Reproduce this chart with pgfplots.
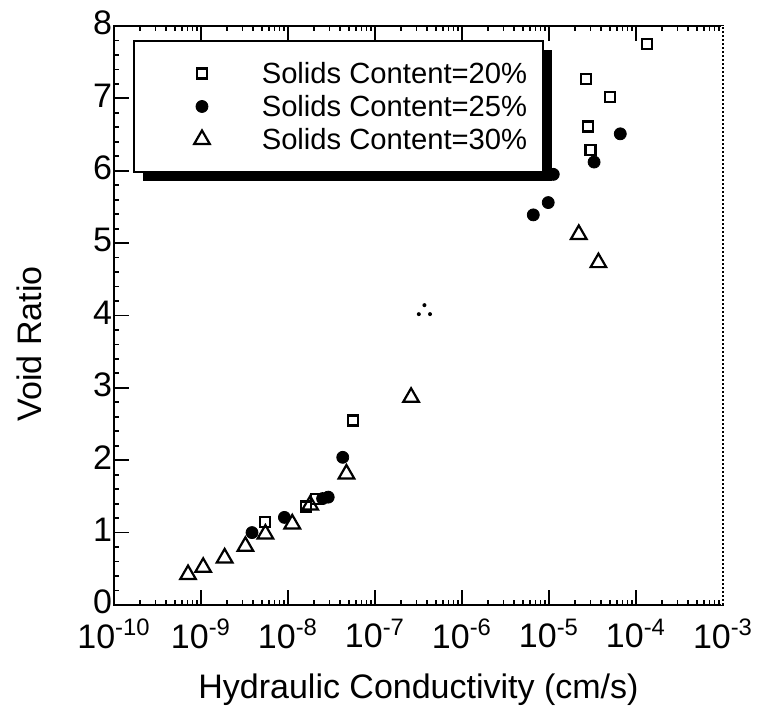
\documentclass[border=0pt]{standalone}
\usepackage{pgfplots}
\pgfplotsset{compat=1.18}
\usepackage{fontspec}
\setmainfont{Liberation Sans}
\usetikzlibrary{shadows}

\pgfdeclareplotmark{threedots}{%
  \pgfpathcircle{\pgfpoint{0pt}{3pt}}{1pt}%
  \pgfpathcircle{\pgfpoint{-2.8pt}{-1.5pt}}{1pt}%
  \pgfpathcircle{\pgfpoint{2.8pt}{-1.5pt}}{1pt}%
  \pgfusepathqfill}

\pgfplotsset{
  mylegimg/.style={legend image code/.code={\path (0pt,0pt); \draw[##1] plot coordinates {(28.5pt,0pt)};}},
}

\begin{document}
\begin{tikzpicture}
\begin{axis}[
  scale only axis, width=304.5pt, height=289.5pt,
  xmode=log, xmin=1e-10, xmax=1e-3, ymin=0, ymax=8,
  xtick={1e-10,1e-9,1e-8,1e-7,1e-6,1e-5,1e-4,1e-3},
  xticklabels={10\textsuperscript{-10},10\textsuperscript{-9},10\textsuperscript{-8},10\textsuperscript{-7},10\textsuperscript{-6},10\textsuperscript{-5},10\textsuperscript{-4},10\textsuperscript{-3}},
  ytick={0,1,...,8}, minor y tick num=4,
  ytick pos=left,
  tick align=inside,
  major tick length=7.5pt, minor tick length=2.5pt,
  every tick/.style={black, line width=0.9pt},
  axis line style={line width=1.2pt},
  tick label style={font=\fontsize{17}{20}\selectfont},
  xticklabel style={yshift=-3.5pt},
  yticklabel style={xshift=2.5pt, yshift=1.5pt},
  /pgf/number format/assume math mode=true,
  xlabel={Hydraulic Conductivity (cm/s)}, ylabel={Void Ratio},
  label style={font=\fontsize{17}{20}\selectfont},
  xlabel style={at={(axis description cs:0.5,-0.1468)}, anchor=center},
  ylabel style={at={(axis description cs:-0.1396,0.451)}, anchor=center},
  legend cell align=left,
  legend style={at={(axis description cs:0,1)}, anchor=north west, xshift=9.5pt, yshift=-7pt,
    draw=black, line width=1pt, fill=white, font=\fontsize{14.6}{17}\selectfont,
    inner xsep=5pt, inner ysep=8pt,
    drop shadow={shadow xshift=4.5pt, shadow yshift=-4.5pt, fill=black, opacity=1},
    nodes={text height=10.5pt, text depth=0pt, inner ysep=3pt, inner xsep=3pt},
    /tikz/every odd column/.append style={column sep=23pt}},
]
\addplot[only marks, black, mark=square, mark size=2.5pt, mark options={line width=1.1pt}, mylegimg]
  coordinates {(5.5e-9,1.15) (1.62e-8,1.36) (2.1e-8,1.46) (5.56e-8,2.55)
  (2.68e-5,7.27) (4.98e-5,7.02) (2.82e-5,6.61) (3.0e-5,6.29) (1.35e-4,7.75)};
\addlegendentry{Solids Content=20\%}
\addplot[only marks, black, mark=*, mark size=3pt, mark options={line width=0.4pt}, mylegimg]
  coordinates {(3.86e-9,1.00) (9.1e-9,1.21) (2.5e-8,1.47) (2.9e-8,1.49) (4.26e-8,2.04)
  (6.6e-6,5.39) (9.8e-6,5.56) (1.12e-5,5.95) (3.3e-5,6.12) (6.6e-5,6.51)};
\addlegendentry{Solids Content=25\%}
\addplot[only marks, black, mark=triangle, mark size=4.5pt, mark options={line width=1.1pt}, mylegimg]
  coordinates {(7.1e-10,0.42) (1.06e-9,0.52) (1.87e-9,0.65) (3.24e-9,0.81) (5.5e-9,0.98)
  (1.12e-8,1.12) (1.8e-8,1.38) (4.7e-8,1.81) (2.6e-7,2.87) (2.2e-5,5.12) (3.7e-5,4.73)};
\addlegendentry{Solids Content=30\%}
\addplot[only marks, black, mark=threedots, forget plot] coordinates {(3.7e-7,4.06)};
\coordinate (SW) at (rel axis cs:0,0);
\coordinate (SE) at (rel axis cs:1,0);
\coordinate (NE) at (rel axis cs:1,1);
\end{axis}
\draw[white, line width=2pt] (SE) -- (NE);
\draw[black, line width=1pt, dash pattern=on 1pt off 1pt] (SE) -- (NE);
\path ([shift={(-57pt,-51.5pt)}]SW) rectangle ([shift={(19pt,13pt)}]NE);
\end{tikzpicture}
\end{document}
